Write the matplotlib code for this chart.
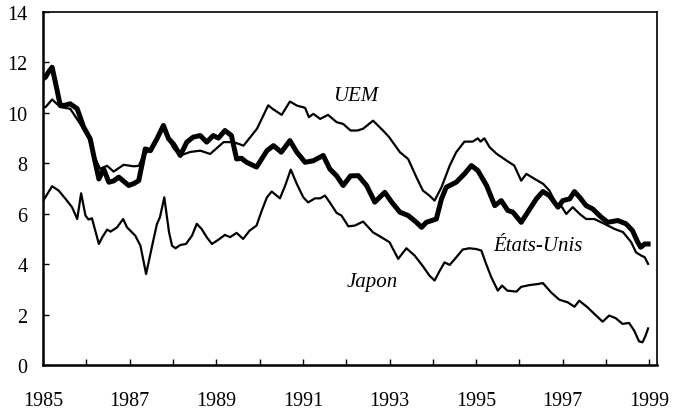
import matplotlib
matplotlib.use("Agg")
import matplotlib.pyplot as plt
from matplotlib.ticker import MultipleLocator

# ---- data (decimal years, %) ----
us_x = [1985.0, 1985.06, 1985.12, 1985.21, 1985.3, 1985.4, 1985.5, 1985.63, 1985.79, 1985.94,
        1986.09, 1986.17, 1986.29, 1986.4, 1986.52, 1986.63, 1986.75, 1986.98, 1987.1, 1987.21,
        1987.36, 1987.48, 1987.63, 1987.78, 1987.9, 1988.01, 1988.17, 1988.32, 1988.47, 1988.63,
        1988.78, 1988.93, 1989.05, 1989.2, 1989.35, 1989.47, 1989.58, 1989.7, 1989.93, 1990.17,
        1990.32, 1990.5, 1990.7, 1990.86, 1991.05, 1991.24, 1991.47, 1991.62, 1991.78, 1991.93,
        1992.1, 1992.28, 1992.47, 1992.66, 1992.89, 1993.05, 1993.24, 1993.43, 1993.62, 1993.74,
        1993.85, 1994.08, 1994.2, 1994.31, 1994.54, 1994.73, 1994.89, 1995.04, 1995.24, 1995.43,
        1995.58, 1995.73, 1995.85, 1996.04, 1996.19, 1996.39, 1996.54, 1996.69, 1996.89, 1997.0,
        1997.16, 1997.27, 1997.39, 1997.54, 1997.69, 1997.89, 1998.04, 1998.27, 1998.46, 1998.61,
        1998.73, 1998.8, 1998.89, 1998.97]
us_y = [11.35, 11.42, 11.6, 11.81, 11.1, 10.29, 10.3, 10.36, 10.16, 9.43,
        8.97, 8.31, 7.38, 7.78, 7.25, 7.3, 7.45, 7.12, 7.2, 7.31,
        8.57, 8.5, 8.97, 9.5, 8.97, 8.77, 8.31, 8.84, 9.04, 9.1,
        8.84, 9.1, 9.0, 9.3, 9.1, 8.17, 8.2, 8.04, 7.85, 8.5,
        8.7, 8.44, 8.9, 8.44, 8.04, 8.1, 8.31, 7.78, 7.5, 7.12,
        7.5, 7.51, 7.12, 6.46, 6.85, 6.46, 6.06, 5.93, 5.66, 5.46,
        5.66, 5.79, 6.59, 7.05, 7.25, 7.58, 7.91, 7.71, 7.12, 6.32,
        6.52, 6.13, 6.06, 5.66, 6.06, 6.59, 6.88, 6.72, 6.26, 6.52,
        6.59, 6.88, 6.65, 6.32, 6.19, 5.86, 5.66, 5.73, 5.6, 5.33,
        4.87, 4.67, 4.8, 4.8]

uem_x = [1985.0, 1985.06, 1985.21, 1985.4, 1985.63, 1985.86, 1986.06, 1986.21, 1986.32, 1986.48,
         1986.63, 1986.86, 1987.1, 1987.21, 1987.32, 1987.5, 1987.63, 1987.78, 1987.9, 1988.01,
         1988.17, 1988.4, 1988.63, 1988.86, 1989.17, 1989.4, 1989.63, 1989.94, 1990.2, 1990.3,
         1990.51, 1990.7, 1990.86, 1991.05, 1991.14, 1991.24, 1991.4, 1991.58, 1991.78, 1991.93,
         1992.1, 1992.26, 1992.39, 1992.62, 1992.85, 1992.99, 1993.24, 1993.43, 1993.62, 1993.77,
         1993.92, 1994.04, 1994.2, 1994.39, 1994.54, 1994.73, 1994.92, 1995.04, 1995.1, 1995.19,
         1995.31, 1995.47, 1995.7, 1995.88, 1996.04, 1996.16, 1996.35, 1996.55, 1996.69, 1996.85,
         1996.96, 1997.08, 1997.23, 1997.39, 1997.54, 1997.73, 1997.96, 1998.19, 1998.39, 1998.58,
         1998.69, 1998.81, 1998.89, 1998.97]
uem_y = [10.2, 10.23, 10.53, 10.23, 10.16, 9.56, 8.97, 8.17, 7.78, 7.9,
         7.67, 7.94, 7.88, 7.9, 8.31, 8.6, 8.97, 9.4, 8.97, 8.6,
         8.31, 8.45, 8.5, 8.37, 8.84, 8.84, 8.7, 9.37, 10.3, 10.16,
         9.92, 10.45, 10.29, 10.2, 9.83, 9.96, 9.76, 9.92, 9.63, 9.56,
         9.3, 9.3, 9.37, 9.69, 9.3, 9.04, 8.44, 8.17, 7.45, 6.92,
         6.72, 6.52, 7.05, 7.91, 8.44, 8.86, 8.86, 8.99, 8.86, 8.99,
         8.64, 8.38, 8.11, 7.91, 7.31, 7.58, 7.38, 7.18, 6.92, 6.39,
         6.32, 5.99, 6.26, 5.99, 5.79, 5.79, 5.6, 5.4, 5.27, 4.87,
         4.47, 4.34, 4.28, 4.01]

jp_x = [1985.0, 1985.21, 1985.36, 1985.52, 1985.67, 1985.79, 1985.88, 1985.98, 1986.05, 1986.13,
        1986.29, 1986.37, 1986.48, 1986.56, 1986.71, 1986.85, 1986.94, 1987.13, 1987.25, 1987.38,
        1987.52, 1987.63, 1987.7, 1987.8, 1987.91, 1987.98, 1988.06, 1988.17, 1988.3, 1988.44,
        1988.55, 1988.66, 1988.78, 1988.9, 1989.05, 1989.2, 1989.32, 1989.47, 1989.62, 1989.77,
        1989.93, 1990.05, 1990.17, 1990.28, 1990.47, 1990.59, 1990.72, 1990.86, 1991.01, 1991.12,
        1991.28, 1991.4, 1991.51, 1991.62, 1991.78, 1991.89, 1992.05, 1992.2, 1992.39, 1992.62,
        1992.81, 1993.0, 1993.2, 1993.39, 1993.58, 1993.77, 1993.92, 1994.04, 1994.16, 1994.27,
        1994.39, 1994.54, 1994.69, 1994.84, 1995.0, 1995.12, 1995.23, 1995.35, 1995.5, 1995.6,
        1995.72, 1995.93, 1996.04, 1996.23, 1996.42, 1996.54, 1996.73, 1996.92, 1997.11, 1997.27,
        1997.38, 1997.57, 1997.77, 1997.92, 1998.07, 1998.22, 1998.38, 1998.53, 1998.65, 1998.76,
        1998.84, 1998.91, 1998.97]
jp_y = [6.5, 7.09, 6.92, 6.59, 6.26, 5.79, 6.81, 5.93, 5.77, 5.82,
        4.8, 5.07, 5.37, 5.29, 5.46, 5.79, 5.46, 5.13, 4.73, 3.61,
        4.73, 5.59, 5.86, 6.65, 5.26, 4.73, 4.63, 4.76, 4.8, 5.13,
        5.6, 5.4, 5.07, 4.8, 4.97, 5.16, 5.07, 5.24, 5.0, 5.33,
        5.53, 6.12, 6.65, 6.88, 6.61, 7.11, 7.75, 7.18, 6.65, 6.45,
        6.61, 6.61, 6.72, 6.45, 6.03, 5.93, 5.5, 5.53, 5.69, 5.26,
        5.07, 4.87, 4.21, 4.63, 4.34, 3.92, 3.55, 3.35, 3.74, 4.07,
        3.97, 4.27, 4.58, 4.63, 4.6, 4.54, 4.01, 3.48, 2.95, 3.15,
        2.95, 2.91, 3.1, 3.17, 3.21, 3.25, 2.88, 2.59, 2.49, 2.31,
        2.55, 2.29, 1.96, 1.72, 1.96, 1.86, 1.63, 1.67, 1.36, 0.94,
        0.9, 1.16, 1.45]

series_labels = ["UEM", "États-Unis", "Japon"]
label_pos = [(1992.23, 10.67), (1996.42, 4.72), (1992.6, 3.3)]
x_ticks = list(range(1985, 2000, 2))
y_ticks = list(range(0, 15, 2))

plt.rcParams['font.family'] = ['Liberation Serif', 'DejaVu Serif']

fig = plt.figure(figsize=(6.75, 4.14), dpi=100)
ax = fig.add_axes([0.0637, 0.1159, 0.9093, 0.8527])

ax.plot(uem_x, uem_y, color='black', lw=1.6, solid_joinstyle='round')
ax.plot(jp_x, jp_y, color='black', lw=1.6, solid_joinstyle='round')
ax.plot(us_x, us_y, color='black', lw=3.6, solid_joinstyle='round')

for lab, (lx, ly) in zip(series_labels, label_pos):
    ax.text(lx, ly, lab, fontsize=15, style='italic', ha='center', va='center')

ax.set_xlim(1985, 1999.17)
ax.set_ylim(0, 14)
ax.set_xticks(x_ticks)
ax.set_xticklabels([str(t) for t in x_ticks])
ax.xaxis.set_minor_locator(MultipleLocator(1))
ax.set_yticks(y_ticks)
ax.tick_params(axis='both', which='both', direction='in', length=4, width=1, labelsize=14.5)
ax.tick_params(axis='x', which='major', pad=19)
ax.tick_params(axis='y', which='major', pad=11)
for s in ax.spines.values():
    s.set_linewidth(1.2)
ax.spines['left'].set_linewidth(1.8)
ax.spines['bottom'].set_linewidth(1.8)

fig.savefig("out.png", dpi=100)
